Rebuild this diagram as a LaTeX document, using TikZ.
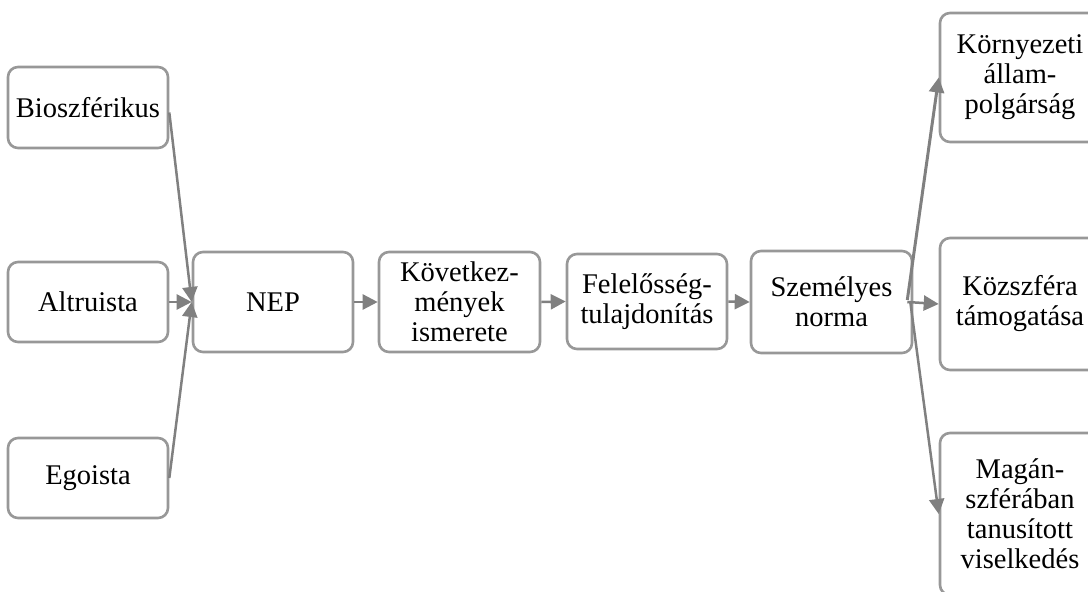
\documentclass[tikz,border=0pt]{standalone}
\usepackage{fontspec}
\setmainfont{Liberation Serif}
\usetikzlibrary{arrows.meta}
\definecolor{boxgray}{RGB}{152,152,152}
\definecolor{arrowgray}{RGB}{128,128,128}
\begin{document}
\begin{tikzpicture}[x=1pt,y=-1pt,
  box/.style={draw=boxgray, line width=2.6pt, rounded corners=10pt, fill=white,
    inner sep=0pt, align=center, minimum width=160pt,
    font=\fontsize{28.5}{30}\selectfont},
  link/.style={draw=arrowgray, line width=2.5pt,
    -{Triangle[length=15pt,width=15pt]}}]
\useasboundingbox (0,0) rectangle (1088,592);
\clip (0,0) rectangle (1088,592);

% value orientations
\node[box, minimum height=81pt]  (bio) at (88,107.5) {Bioszférikus};
\node[box, minimum height=80pt]  (alt) at (88,302)   {Altruista};
\node[box, minimum height=80pt]  (ego) at (88,478)   {Egoista};

% causal chain
\node[box, minimum height=100pt] (nep)  at (273,302)   {NEP};
\node[box, minimum height=100pt, minimum width=161pt] (kov) at (459.5,302) {Következ-\\mények\\ismerete};
\node[box, minimum height=95pt]  (fel)  at (647,301.5) {Felelősség-\\tulajdonítás};
\node[box, minimum height=102pt, minimum width=161pt] (szem) at (831.5,302) {Személyes\\norma};

% behaviours
\node[box, minimum height=129pt] (korny) at (1020,77.5) {Környezeti\\állam-\\polgárság};
\node[box, minimum height=132pt] (kozs)  at (1020,304)  {Közszféra\\támogatása};
\node[box, minimum height=162pt] (magan) at (1020,514)  {Magán-\\szférában\\tanusított\\viselkedés};

% connectors
\draw[link] ([yshift=-5pt]bio.east) -- (nep.west);
\draw[link] (alt.east) -- (nep.west);
\draw[link] (ego.east) -- (nep.west);
\draw[link] (nep.east) -- (kov.west);
\draw[link] (kov.east) -- (fel.west);
\draw[link] (fel.east) -- (szem.west);
\draw[link, line width=3pt] ([xshift=-6pt,yshift=2pt]szem.east) -- (korny.west);
\draw[link] ([xshift=-6pt]szem.east) -- (kozs.west);
\draw[link] ([xshift=-3pt]szem.east) -- (magan.west);
\end{tikzpicture}
\end{document}
